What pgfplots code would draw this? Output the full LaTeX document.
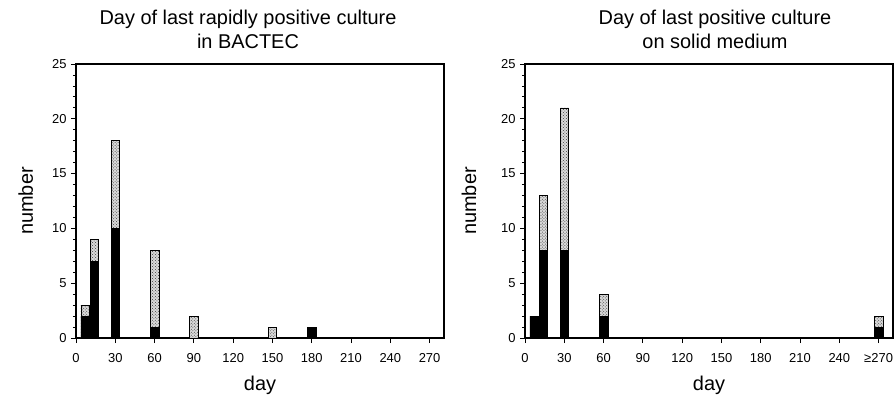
\documentclass[border=0pt]{standalone}
\usepackage{fontspec}
\setmainfont{Liberation Sans}
\usepackage{pgfplots}
\pgfplotsset{compat=1.18}
\usetikzlibrary{patterns}

\pgfplotsset{
    culture/.style={
        scale only axis,
        width=368bp, height=274bp,
        xmin=0, xmax=281, ymin=0, ymax=25,
        xtick={0,30,...,270},
        ytick={0,5,...,25},
        minor y tick num=4,
        tick align=outside,
        xtick pos=bottom, ytick pos=left,
        major tick length=5bp, minor tick length=3bp,
        tick style={black, line width=0.8bp},
        axis line style={line width=1.1bp},
        ticklabel style={font=\fontsize{13}{15}\selectfont},
        xticklabel style={yshift=-7bp},
        yticklabel style={xshift=-1bp},
        /pgf/number format/assume math mode=true,
        xlabel=day, ylabel=number,
        label style={font=\fontsize{20}{24}\selectfont},
        xlabel style={at={(axis description cs:0.5,-0.193)}, anchor=base},
        ylabel style={at={(axis description cs:-0.117,0.5)}, anchor=base},
        title style={font=\fontsize{20}{24}\selectfont, align=center,
            at={(axis description cs:0.5,1)}, anchor=south, yshift=6bp},
    },
    black bar/.style={ybar, bar width=6.5, bar shift=0pt,
        fill=black, draw=black, line width=0.6bp},
    dotted bar/.style={ybar, bar width=6.5, bar shift=0pt,
        draw=black, line width=0.6bp, fill=gray!30,
        postaction={pattern=crosshatch dots, pattern color=black!75}},
}

\begin{document}
\begin{tikzpicture}
    \path[use as bounding box] (-76bp,-63bp) rectangle (819bp,338bp);

    % BACTEC
    \begin{axis}[
        culture,
        at={(0,0)}, anchor=south west,
        title={Day of last rapidly positive culture\\in BACTEC},
        title style={xshift=-12bp},
    ]
        % total (upper, stippled part)
        \addplot[dotted bar] coordinates {
            (7,3) (14,9) (30,18) (60,8) (90,2) (150,1)
        };
        % lower, black part
        \addplot[black bar] coordinates {
            (7,2) (14,7) (30,10) (60,1) (180,1)
        };
    \end{axis}

    % solid medium
    \begin{axis}[
        culture,
        at={(449bp,0)}, anchor=south west,
        title={Day of last positive culture\\on solid medium},
        title style={xshift=6bp},
        xticklabels={0,30,60,90,120,150,180,210,240,{≥270}},
        ylabel style={at={(axis description cs:-0.133,0.5)}},
    ]
        \addplot[dotted bar] coordinates {
            (14,13) (30,21) (60,4) (270,2)
        };
        \addplot[black bar] coordinates {
            (7,2) (14,8) (30,8) (60,2) (270,1)
        };
    \end{axis}
\end{tikzpicture}
\end{document}
